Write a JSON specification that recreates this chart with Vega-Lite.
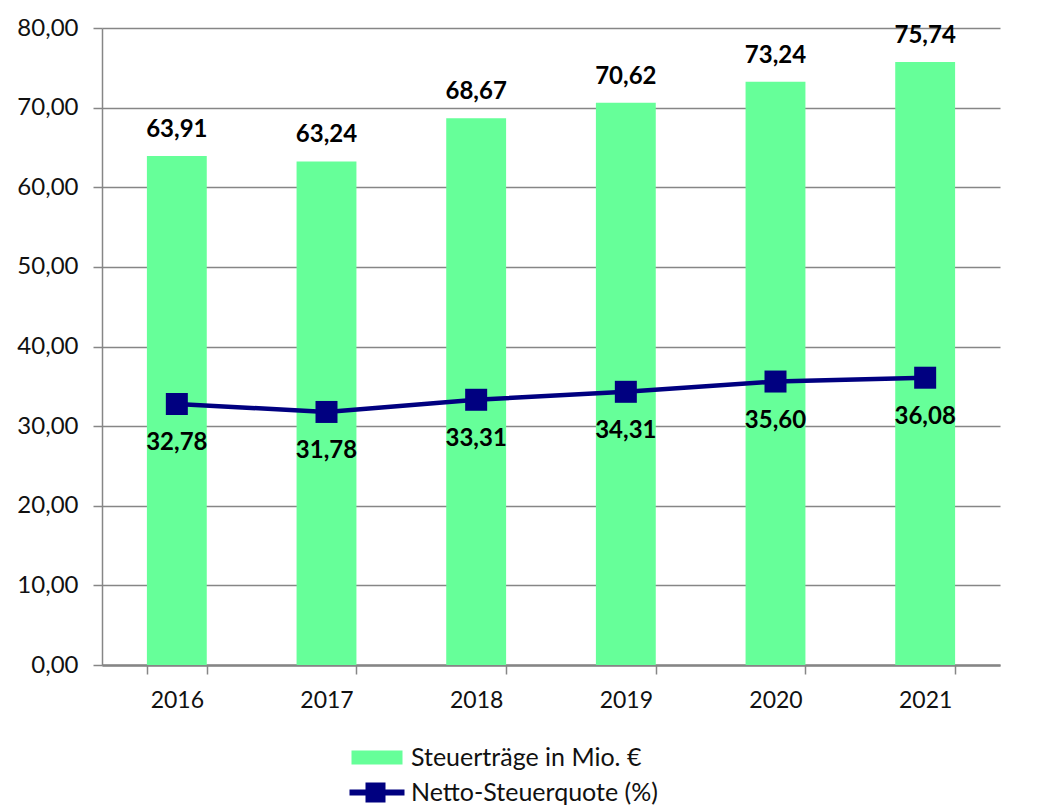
{
  "$schema": "https://vega.github.io/schema/vega-lite/v6.json",
  "width": 898,
  "height": 637,
  "autosize": {"type": "none"},
  "padding": {"left": 102, "top": 28, "right": 60, "bottom": 147},
  "background": "white",
  "config": {
    "font": "Lato",
    "view": {"stroke": null},
    "locale": {"number": {"decimal": ",", "thousands": ".", "grouping": [3], "currency": ["", " €"]}}
  },
  "data": {
    "values": [
      {"Jahr": "2016", "Steuer": 63.91, "Quote": 32.78},
      {"Jahr": "2017", "Steuer": 63.24, "Quote": 31.78},
      {"Jahr": "2018", "Steuer": 68.67, "Quote": 33.31},
      {"Jahr": "2019", "Steuer": 70.62, "Quote": 34.31},
      {"Jahr": "2020", "Steuer": 73.24, "Quote": 35.60},
      {"Jahr": "2021", "Steuer": 75.74, "Quote": 36.08}
    ]
  },
  "encoding": {
    "x": {
      "field": "Jahr", "type": "nominal",
      "scale": {"paddingInner": 0.6, "paddingOuter": 0.3},
      "axis": {
        "title": null, "labelAngle": 0, "tickBand": "extent", "ticks": true, "tickSize": 9,
        "tickColor": "#868686", "tickWidth": 1.5, "domainColor": "#868686", "domainWidth": 2.5,
        "labelPadding": 15, "labelFontSize": 23, "labelColor": "#111111", "grid": false, "labelFont": "Lato"
      }
    }
  },
  "layer": [
    {
      "mark": {"type": "bar"},
      "encoding": {
        "y": {
          "field": "Steuer", "type": "quantitative",
          "scale": {"domain": [0, 80], "nice": false, "zero": true},
          "axis": {
            "title": null, "values": [0, 10, 20, 30, 40, 50, 60, 70, 80], "format": ".2f",
            "grid": true, "gridColor": "#868686", "gridWidth": 1.5,
            "domainColor": "#868686", "domainWidth": 1.5, "tickSize": 9, "tickColor": "#868686", "tickWidth": 1.5,
            "labelPadding": 15, "labelFontSize": 24, "labelColor": "#111111", "labelFont": "Lato"
          }
        },
        "color": {
          "datum": "Steuerträge in Mio. €",
          "scale": {"domain": ["Steuerträge in Mio. €", "Netto-Steuerquote (%)"], "range": ["#66FF99", "#000080"]},
          "legend": {
            "title": null, "orient": "none", "legendX": 279, "legendY": 717,
            "direction": "vertical", "padding": 0, "rowPadding": 9, "labelOffset": 5,
            "labelFontSize": 25, "labelColor": "#111111", "labelFont": "Lato", "labelLimit": 0,
            "symbolSize": 400,
            "encode": {
              "symbols": {
                "update": {
                  "shape": {"signal": "datum.value === 'Netto-Steuerquote (%)' ? 'M-4.4,-0.3H1.1V0.3H-4.4ZM-2.8,-1H-0.8V1H-2.8Z' : 'M-4.2,-0.7H0.9V0.7H-4.2Z'"},
                  "fill": {"signal": "datum.value === 'Netto-Steuerquote (%)' ? '#000080' : '#66FF99'"},
                  "stroke": {"value": "transparent"},
                  "strokeWidth": {"value": 0},
                  "opacity": {"value": 1},
                  "fillOpacity": {"value": 1},
                  "size": {"value": 400}
                }
              }
            }
          }
        }
      }
    },
    {
      "mark": {"type": "text", "fontWeight": "bold", "fontSize": 24, "dy": -26, "baseline": "middle", "color": "#000000"},
      "encoding": {
        "y": {"field": "Steuer", "type": "quantitative"},
        "text": {"field": "Steuer", "type": "quantitative", "format": ".2f"}
      }
    },
    {
      "mark": {"type": "line", "strokeWidth": 4.5},
      "encoding": {
        "y": {"field": "Quote", "type": "quantitative"},
        "color": {"datum": "Netto-Steuerquote (%)"}
      }
    },
    {
      "mark": {"type": "point", "shape": "square", "size": 484, "filled": true, "opacity": 1, "color": "#000080"},
      "encoding": {
        "y": {"field": "Quote", "type": "quantitative"}
      }
    },
    {
      "mark": {"type": "text", "fontWeight": "bold", "fontSize": 24, "dy": 39, "baseline": "middle", "color": "#000000"},
      "encoding": {
        "y": {"field": "Quote", "type": "quantitative"},
        "text": {"field": "Quote", "type": "quantitative", "format": ".2f"}
      }
    }
  ]
}
